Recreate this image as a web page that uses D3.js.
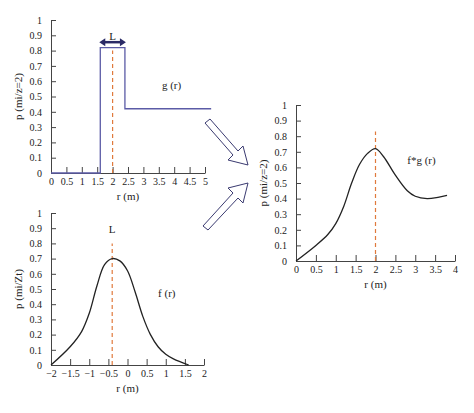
<!DOCTYPE html>
<html><head><meta charset="utf-8">
<script src="https://cdn.jsdelivr.net/npm/d3@7"></script>
<style>body{margin:0;background:#fff}text{font-family:"Liberation Serif","DejaVu Serif",serif;fill:#222}</style>
</head><body><div id="graph"></div>
<script>
// data
var gR = [0, 1.6, 1.6, 2.4, 2.4, 5.2];
var gP = [0, 0, 0.82, 0.82, 0.42, 0.42];
var fR = [-2, -1.5, -1.2, -1, -0.8, -0.6, -0.4, -0.2, 0, 0.2, 0.4, 0.6, 0.8, 1, 1.2, 1.6];
var fP = [0, 0.12, 0.22, 0.34, 0.52, 0.66, 0.70, 0.685, 0.62, 0.48, 0.32, 0.2, 0.12, 0.07, 0.04, 0];
var fgR = [0, 0.5, 0.8, 1, 1.2, 1.4, 1.6, 1.8, 2, 2.2, 2.5, 2.8, 3, 3.3, 3.6, 3.8];
var fgP = [0, 0.1, 0.17, 0.24, 0.35, 0.5, 0.62, 0.69, 0.72, 0.67, 0.55, 0.45, 0.415, 0.40, 0.41, 0.42];
var yTicks = [0, 0.1, 0.2, 0.3, 0.4, 0.5, 0.6, 0.7, 0.8, 0.9, 1];

var width = 474, height = 413;
var svg = d3.select("#graph").append("svg").attr("width", width).attr("height", height);

function panel(o) {
  var x = d3.scaleLinear().domain(o.xd).range([o.x0, o.x1]);
  var y = d3.scaleLinear().domain([0, 1]).range([o.y0, o.y1]);
  var g = svg.append("g");
  g.append("g").attr("transform", `translate(${o.x0},0)`)
    .call(d3.axisLeft(y).tickValues(yTicks).tickSizeInner(-5).tickSizeOuter(0).tickPadding(9).tickFormat(d3.format("")));
  g.append("g").attr("transform", `translate(0,${o.y0})`)
    .call(d3.axisBottom(x).tickValues(o.xt).tickSizeInner(-6).tickSizeOuter(0).tickPadding(5).tickFormat(d3.format("")));
  g.selectAll(".domain,.tick line").attr("stroke", "#444");
  g.selectAll(".tick text").attr("font-size", 10).style("font-family", "Liberation Serif, serif");
  g.append("text").attr("x", (o.x0 + o.x1) / 2).attr("y", o.y0 + 27).attr("text-anchor", "middle").attr("font-size", 11).text("r (m)");
  g.append("text").attr("transform", `translate(${o.x0 - 29},${(o.y0 + o.y1) / 2}) rotate(-90)`)
    .attr("text-anchor", "middle").attr("font-size", 11).text(o.ylab);
  g.append("line").attr("x1", x(o.dash)).attr("x2", x(o.dash)).attr("y1", y(0)).attr("y2", y(o.dashTop))
    .attr("stroke", "#e07a3c").attr("stroke-dasharray", "4,3").attr("stroke-width", 1.2);
  g.append("path").datum(d3.zip(o.r, o.p)).attr("fill", "none").attr("stroke", o.color).attr("stroke-width", 1.3)
    .attr("d", d3.line().x(d => x(d[0])).y(d => y(d[1])).curve(o.curve));
  g.append("text").attr("x", x(o.lab[0])).attr("y", y(o.lab[1])).attr("font-size", 11).text(o.lab[2]);
  return { x: x, y: y, g: g };
}

var p1 = panel({ xd: [0, 5], x0: 51, x1: 205, y0: 173, y1: 20, xt: d3.range(0, 5.01, 0.5), ylab: "p (mi/z=2)",
  r: gR, p: gP, color: "#5b5ba6", curve: d3.curveLinear, dash: 2, dashTop: 0.8, lab: [3.6, 0.55, "g (r)"] });
var p2 = panel({ xd: [-2, 2], x0: 51, x1: 204, y0: 365, y1: 213, xt: d3.range(-2, 2.01, 0.5), ylab: "p (mi/Zt)",
  r: fR, p: fP, color: "#222", curve: d3.curveCatmullRom, dash: -0.4, dashTop: 0.8, lab: [0.8, 0.45, "f (r)"] });
var p3 = panel({ xd: [0, 4], x0: 296, x1: 455, y0: 261, y1: 105, xt: d3.range(0, 4.01, 0.5), ylab: "p (mi/z=2)",
  r: fgR, p: fgP, color: "#222", curve: d3.curveCatmullRom, dash: 2, dashTop: 0.83, lab: [2.8, 0.62, "f*g (r)"] });

// L marker
p1.g.append("text").attr("x", p1.x(2)).attr("y", p1.y(0.87)).attr("text-anchor", "middle").attr("font-size", 11).text("L");
var ly = p1.y(0.855), la = p1.x(1.6), lb = p1.x(2.4);
p1.g.append("line").attr("x1", la + 3).attr("x2", lb - 3).attr("y1", ly).attr("y2", ly).attr("stroke", "#2a2a66").attr("stroke-width", 2.5);
p1.g.append("path").attr("fill", "#2a2a66").attr("d", `M${la - 1},${ly}l6,-4v8z M${lb + 1},${ly}l-6,-4v8z`);
p2.g.append("text").attr("x", p2.x(-0.4)).attr("y", p2.y(0.87)).attr("text-anchor", "middle").attr("font-size", 11).text("L");

// arrows
svg.append("path").attr("fill", "#fff").attr("stroke", "#3a3a70").attr("stroke-width", 1)
  .attr("d", "M205,123 L233,155 L228,160 L248,165 L243,146 L238,151 L210,119 Z");
svg.append("path").attr("fill", "#fff").attr("stroke", "#3a3a70").attr("stroke-width", 1)
  .attr("d", "M203,226 L233,193 L228,188 L248,183 L243,203 L238,198 L208,230 Z");
</script></body></html>
